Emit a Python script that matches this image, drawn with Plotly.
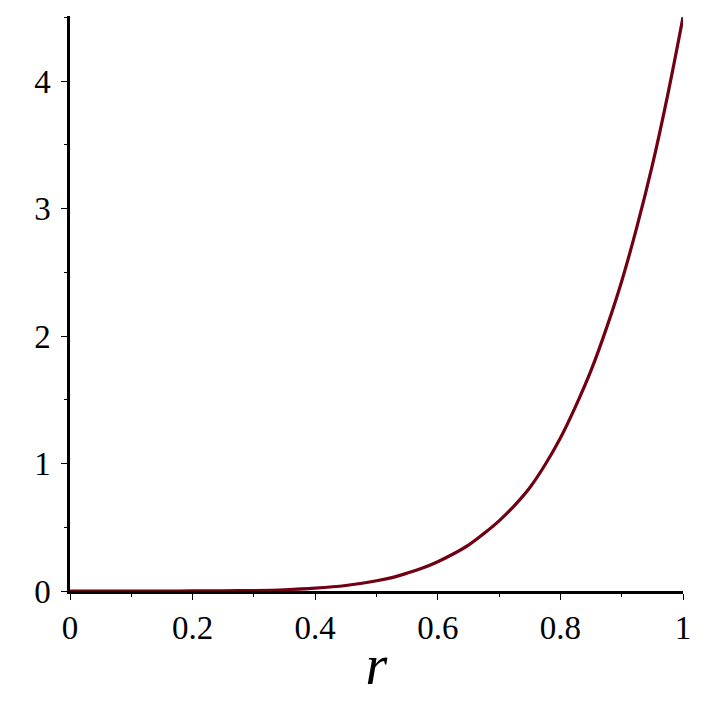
import plotly.graph_objects as go

r_vals = [0.0, 0.05, 0.1, 0.15, 0.2, 0.25, 0.3, 0.35, 0.4, 0.45, 0.5, 0.525, 0.55, 0.575, 0.6,
          0.625, 0.65, 0.675, 0.7, 0.725, 0.75, 0.775, 0.8, 0.825, 0.85, 0.875, 0.9, 0.925,
          0.95, 0.975, 1.0]
f_vals = [0.0, 0.0, 0.0, 0.0001, 0.0003, 0.0012, 0.004, 0.010, 0.022, 0.043, 0.080, 0.105, 0.14, 0.18, 0.23,
          0.29, 0.36, 0.45, 0.55, 0.67, 0.81, 0.99, 1.20, 1.45, 1.73, 2.06, 2.43, 2.86,
          3.34, 3.89, 4.5]

x_ticks = [0, 0.2, 0.4, 0.6, 0.8, 1]
x_labels = ["0", "0.2", "0.4", "0.6", "0.8", "1"]
y_ticks = [0, 1, 2, 3, 4]
y_labels = ["0", "1", "2", "3", "4"]

line_color = "rgb(112,0,18)"
font_family = "Times New Roman"

fig = go.Figure()
fig.add_trace(go.Scatter(
    x=r_vals, y=f_vals, mode="lines",
    line=dict(color=line_color, width=3.2, shape="spline", smoothing=1.0),
    showlegend=False, hoverinfo="skip", cliponaxis=False,
))

# page body adds an 8px offset, so the figure is sized to fit the 709x707 window
fig.update_layout(
    width=701, height=699,
    margin=dict(l=62, r=26, t=8, b=116),
    paper_bgcolor="white", plot_bgcolor="white",
    font=dict(family=font_family, size=33, color="black"),
)
fig.update_xaxes(
    range=[0, 1], tickvals=x_ticks, ticktext=x_labels,
    showgrid=False, zeroline=False,
    showline=True, linecolor="black", linewidth=2.5,
    ticks="outside", ticklen=6, tickwidth=1, tickcolor="black",
    minor=dict(dtick=0.1, ticks="outside", ticklen=3, tickwidth=1, tickcolor="black"),
    title=dict(text="<i>r</i>", font=dict(size=56, family=font_family), standoff=0),
    tickfont=dict(size=33, family=font_family),
)
fig.update_yaxes(
    range=[0, 4.51], tickvals=y_ticks, ticktext=y_labels,
    showgrid=False, zeroline=False,
    showline=True, linecolor="black", linewidth=2.5,
    ticks="outside", ticklen=6, tickwidth=1, tickcolor="black",
    minor=dict(dtick=0.5, ticks="outside", ticklen=3, tickwidth=1, tickcolor="black"),
    ticklabelstandoff=4,
    tickfont=dict(size=33, family=font_family),
)

fig.write_html("out.html")
